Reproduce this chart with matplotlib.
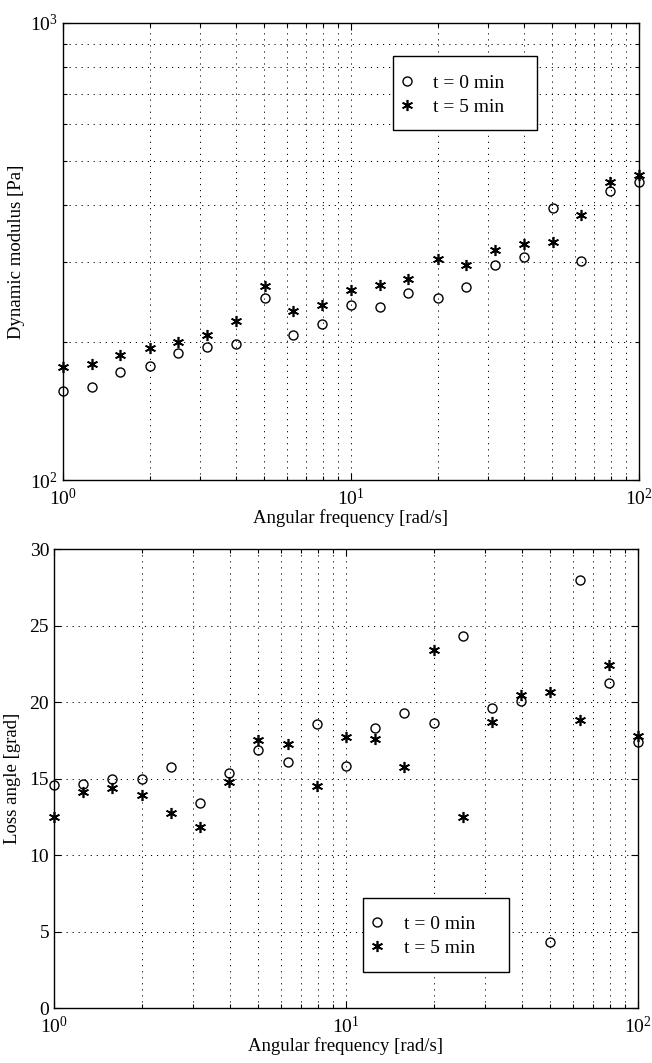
import matplotlib
matplotlib.use("Agg")
import matplotlib.pyplot as plt
from matplotlib.patches import Rectangle
from matplotlib.ticker import LogLocator, MultipleLocator, NullFormatter

plt.rcParams['font.family'] = ['Liberation Serif', 'DejaVu Serif']
plt.rcParams['mathtext.fontset'] = 'custom'
plt.rcParams['mathtext.rm'] = 'Liberation Serif'
plt.rcParams['mathtext.it'] = 'Liberation Serif:italic'

# angular frequency [rad/s], 10 points per decade
freq = [1.0, 1.26, 1.58, 2.0, 2.51, 3.16, 3.98, 5.01, 6.31, 7.94, 10.0,
        12.6, 15.8, 20.0, 25.1, 31.6, 39.8, 50.1, 63.1, 79.4, 100.0]

# dynamic modulus [Pa]
modulus_t0 = [157, 160, 172, 178, 190, 195, 198, 250, 208, 219, 241,
              239, 256, 250, 264, 295, 307, 393, 301, 428, 448]
modulus_t5 = [177, 179, 188, 194, 200, 208, 223, 266, 234, 241, 260,
              267, 275, 304, 296, 319, 328, 332, 380, 449, 466]

# loss angle [grad]
loss_t0 = [14.6, 14.65, 15.0, 15.0, 15.75, 13.4, 15.35, 16.85, 16.1, 18.55, 15.85,
           18.3, 19.3, 18.6, 24.3, 19.6, 20.1, 4.3, 28.0, 21.25, 17.4]
loss_t5 = [12.5, 14.15, 14.4, 13.9, 12.75, 11.85, 14.75, 17.5, 17.25, 14.5, 17.7,
           17.6, 15.75, 23.4, 12.5, 18.7, 20.45, 20.65, 18.8, 22.45, 17.75]

labels = ['t = 0 min', 't = 5 min']

fig = plt.figure(figsize=(6.52, 10.63), dpi=100)
ax1 = fig.add_axes([0.0966, 0.5484, 0.8834, 0.4300])
ax2 = fig.add_axes([0.0828, 0.0517, 0.8957, 0.4318])

star = (6, 2, 0)
grid_style = dict(color='black', linestyle=(0, (1.2, 5)), linewidth=0.7)


def style_axes(ax):
    ax.set_xscale('log')
    ax.set_xlim(1, 100)
    ax.xaxis.set_minor_locator(LogLocator(base=10, subs=range(2, 10)))
    ax.xaxis.set_minor_formatter(NullFormatter())
    ax.grid(True, which='both', axis='x', **grid_style)
    ax.tick_params(which='both', direction='in', top=True, right=True,
                   labelsize=14, width=0.8)
    ax.tick_params(which='major', length=5)
    ax.tick_params(which='minor', length=3)
    ax.tick_params(axis='x', which='major', pad=6)
    for s in ax.spines.values():
        s.set_linewidth(1.0)


def plot_series(ax, y0, y5):
    ax.plot(freq, y0, linestyle='none', marker='o', markersize=6.5,
            markerfacecolor='none', markeredgecolor='black', markeredgewidth=1.0,
            label=labels[0], clip_on=False)
    ax.plot(freq, y5, linestyle='none', marker=star, markersize=8,
            markeredgecolor='black', markeredgewidth=1.2,
            label=labels[1], clip_on=False)


def boxed_legend(ax, box, anchor):
    # MATLAB-like legend box: frame drawn separately so the padding can differ
    ax.add_patch(Rectangle(box[:2], box[2], box[3], transform=ax.transAxes,
                           facecolor='white', edgecolor='black', linewidth=1.0,
                           zorder=5, clip_on=False))
    leg = ax.legend(loc='center left', bbox_to_anchor=anchor, fontsize=14,
                    frameon=False, borderpad=0, borderaxespad=0,
                    handlelength=1.0, handletextpad=0.86, labelspacing=0.35)
    leg.set_zorder(6)


# top: dynamic modulus
plot_series(ax1, modulus_t0, modulus_t5)
ax1.set_yscale('log')
ax1.set_ylim(100, 1000)
ax1.yaxis.set_minor_locator(LogLocator(base=10, subs=range(2, 10)))
ax1.yaxis.set_minor_formatter(NullFormatter())
style_axes(ax1)
ax1.grid(True, which='both', axis='y', **grid_style)
ax1.set_xlabel('Angular frequency [rad/s]', fontsize=13.5, labelpad=0)
ax1.set_ylabel('Dynamic modulus [Pa]', fontsize=13.5, labelpad=4)
boxed_legend(ax1, (0.573, 0.766, 0.25, 0.162), (0.580, 0.842))

# bottom: loss angle
plot_series(ax2, loss_t0, loss_t5)
ax2.set_ylim(0, 30)
ax2.yaxis.set_major_locator(MultipleLocator(5))
style_axes(ax2)
ax2.grid(True, which='major', axis='y', **grid_style)
ax2.set_xlabel('Angular frequency [rad/s]', fontsize=13.5, labelpad=0)
ax2.set_ylabel('Loss angle [grad]', fontsize=13.5, labelpad=6)
boxed_legend(ax2, (0.529, 0.0784, 0.25, 0.161), (0.537, 0.157))

fig.savefig('out.png', dpi=100)
